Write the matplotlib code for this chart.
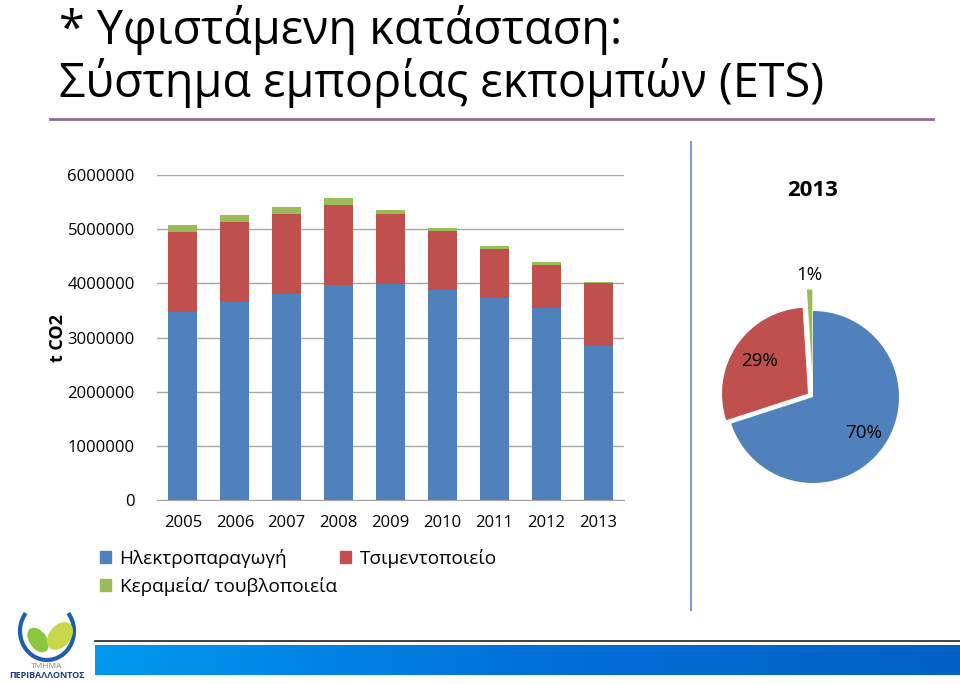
import numpy as np
import matplotlib
matplotlib.use('Agg')
import matplotlib.pyplot as plt
from matplotlib.patches import Patch, Arc, Ellipse
from matplotlib.colors import LinearSegmentedColormap

plt.rcParams['font.family'] = ['Open Sans', 'DejaVu Sans']

years = ['2005', '2006', '2007', '2008', '2009', '2010', '2011', '2012', '2013']
power = [3476000, 3650000, 3806000, 3968000, 3993000, 3874000, 3731000, 3551000, 2836000]
cement = [1480000, 1474000, 1468000, 1473000, 1287000, 1089000, 902000, 796000, 1163000]
ceramics = [125000, 131000, 130000, 137000, 81000, 62000, 50000, 44000, 19000]
series_names = ['Ηλεκτροπαραγωγή', 'Τσιμεντοποιείο', 'Κεραμεία/ τουβλοποιεία']
pie_shares = [70, 29, 1]
pie_labels = ['70%', '29%', '1%']

colors = ['#4f81bd', '#c0504d', '#9bbb59']

W, H = 960, 684
fig = plt.figure(figsize=(9.6, 6.84), dpi=100)

def fx(px):
    return px / W

def fy(py):
    return 1 - py / H

# title
fig.text(fx(59), fy(30), '* Υφιστάμενη κατάσταση:', fontsize=33.7, va='center', ha='left', color='black')
fig.text(fx(59), fy(83), 'Σύστημα εμπορίας εκπομπών (ETS)', fontsize=33.7, va='center', ha='left', color='black')
fig.add_artist(plt.Line2D([fx(50), fx(933)], [fy(119), fy(119)], color='#8c6d94', linewidth=2))

# bar chart
ax = fig.add_axes([fx(157), fy(500), fx(467), 325 / H])
x = np.arange(len(years))
ax.bar(x, power, width=0.56, color=colors[0], zorder=3)
ax.bar(x, cement, width=0.56, bottom=power, color=colors[1], zorder=3)
bottom2 = [p + c for p, c in zip(power, cement)]
ax.bar(x, ceramics, width=0.56, bottom=bottom2, color=colors[2], zorder=3)
ax.set_xlim(-0.5, len(years) - 0.5)
ax.set_ylim(0, 6000000)
ax.set_yticks(np.arange(0, 6000001, 1000000))
ax.set_yticklabels([str(v) for v in range(0, 6000001, 1000000)])
ax.set_xticks(x)
ax.set_xticklabels(years)
ax.yaxis.grid(True, color='#a6a6a6', linewidth=1, zorder=0)
for s in ['top', 'right', 'left']:
    ax.spines[s].set_visible(False)
ax.spines['bottom'].set_color('#a6a6a6')
ax.tick_params(axis='both', length=0, labelsize=12, colors='black')
ax.tick_params(axis='y', pad=16)
ax.tick_params(axis='x', pad=11)
fig.text(fx(58), fy(338), 't CO2', rotation=90, fontsize=13, fontweight='bold', ha='center', va='center')

# legend
handles = [Patch(color=colors[0], label=series_names[0]),
           Patch(color=colors[2], label=series_names[2]),
           Patch(color=colors[1], label=series_names[1])]
fig.legend(handles=handles, ncol=2, loc='upper left', bbox_to_anchor=(fx(92), fy(541)),
           frameon=False, fontsize=13.7, handlelength=0.6, handleheight=0.6,
           handletextpad=0.45, columnspacing=0.15, labelspacing=0.5, borderaxespad=0)

# divider
fig.add_artist(plt.Line2D([fx(691), fx(691)], [fy(142), fy(610)], color='#7f9cc8', linewidth=1.5))

# pie chart
r_px = 86
pax = fig.add_axes([fx(813 - r_px), fy(397 + r_px), 2 * r_px / W, 2 * r_px / H])
wedges, _ = pax.pie(pie_shares, colors=colors, startangle=90, counterclock=False,
                    explode=[0, 0.07, 0.25], wedgeprops=dict(linewidth=0))
pax.set_xlim(-1, 1)
pax.set_ylim(-1, 1)
pax.set_aspect('auto')
pax.axis('off')
for w, lab, dist in zip(wedges, pie_labels, [0.72, 0.68, 1.17]):
    ang = np.deg2rad((w.theta1 + w.theta2) / 2)
    cx, cy = w.center
    pax.text(cx + dist * np.cos(ang), cy + dist * np.sin(ang), lab,
             ha='center', va='center', fontsize=13.5, color='black', clip_on=False)
fig.text(fx(813), fy(190), '2013', fontsize=16, fontweight='bold', ha='center', va='center')

# bottom band
fig.add_artist(plt.Line2D([fx(95), 1], [fy(641), fy(641)], color='#222222', linewidth=1.2))
grad_ax = fig.add_axes([fx(95), fy(675), 1 - fx(95), 30 / H])
grad = np.linspace(0, 1, 256).reshape(1, -1)
cmap = LinearSegmentedColormap.from_list('band', ['#0099f0', '#0070d8', '#0060c4'])
grad_ax.imshow(grad, aspect='auto', cmap=cmap, extent=[0, 1, 0, 1])
grad_ax.axis('off')

# logo
lax = fig.add_axes([0, fy(684), fx(100), 90 / H])
lax.set_xlim(0, 100)
lax.set_ylim(90, 0)
lax.axis('off')
lax.add_patch(Arc((47, 37), 54, 58, theta1=-40, theta2=220, color='#1d5fae', linewidth=3))
lax.add_patch(Ellipse((38, 46), 16, 26, angle=-35, color='#8cc63f'))
lax.add_patch(Ellipse((60, 42), 20, 30, angle=40, color='#c8d84a'))
lax.text(47, 72, 'ΤΜΗΜΑ', fontsize=6, color='#888888', ha='center', va='center')
lax.text(47, 82, 'ΠΕΡΙΒΑΛΛΟΝΤΟΣ', fontsize=6.5, color='#1d3f7a', fontweight='bold', ha='center', va='center')

fig.savefig('out.png', dpi=100)
